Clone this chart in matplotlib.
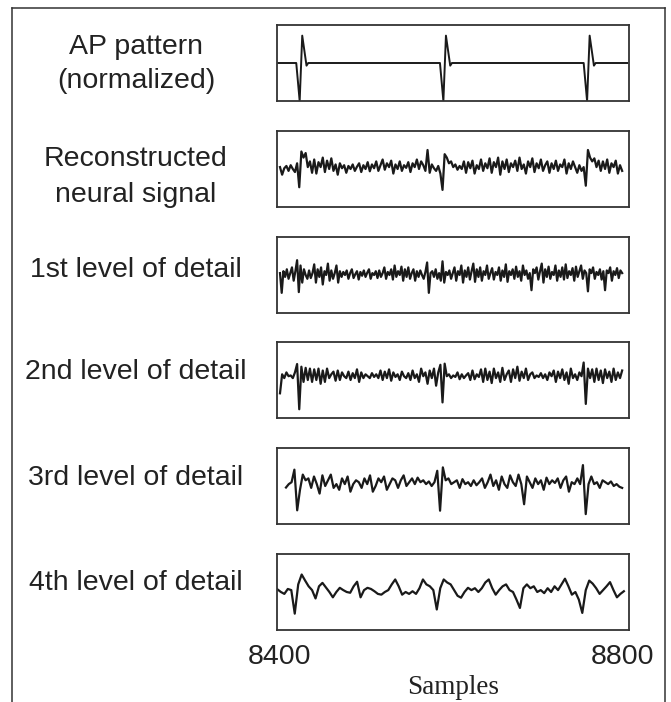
import numpy as np
import matplotlib
matplotlib.use("Agg")
import matplotlib.pyplot as plt
from matplotlib.lines import Line2D

# ---------------- data ----------------
panel_labels = ["AP pattern\n(normalized)", "Reconstructed\nneural signal",
                "1st level of detail", "2nd level of detail",
                "3rd level of detail", "4th level of detail"]
x_ticks = [8400, 8800]
x_ticklabels = ["8400", "8800"]
x_label = "Samples"

ap_x = [8398, 8419, 8423, 8426, 8431, 8433, 8587, 8591, 8594, 8599, 8601,
        8755, 8759, 8762, 8767, 8769, 8806]
ap_y = [0, 0, -1, 0.72, -0.07, 0, 0, -1, 0.72, -0.07, 0, 0, -1, 0.72, -0.07, 0, 0]

recon = [0.05, -0.15, 0.02, 0.08, -0.05, 0.1, 0.0, -0.08, 0.15, -0.48,
         0.46, 0.3, 0.42, 0.05, 0.2, -0.1, 0.25, -0.12, 0.18, 0.05,
         0.3, -0.08, 0.22, 0.0, 0.28, -0.05, 0.12, -0.15, 0.15, 0.02,
         0.1, -0.1, 0.08, 0.0, 0.12, -0.05, 0.06, 0.15, -0.08, 0.1,
         0.0, 0.18, -0.06, 0.12, 0.02, 0.2, -0.05, 0.1, 0.25, -0.02,
         0.15, 0.05, 0.22, -0.12, 0.12, 0.0, 0.2, -0.05, 0.1, 0.03,
         0.18, -0.08, 0.15, 0.05, 0.25, 0.0, 0.2, 0.1, -0.05, 0.5,
         -0.1, 0.12, 0.02, -0.05, 0.08, -0.12, -0.55, 0.39, 0.3, 0.15,
         0.2, 0.05, 0.12, -0.02, 0.08, 0.0, 0.2, -0.1, 0.18, 0.02,
         0.22, -0.12, 0.1, 0.0, 0.25, -0.05, 0.15, 0.02, 0.28, -0.1,
         0.18, 0.05, 0.3, -0.15, 0.2, 0.0, 0.25, -0.08, 0.15, 0.05,
         0.22, -0.05, 0.3, 0.0, 0.12, -0.12, 0.2, 0.05, 0.28, -0.08,
         0.15, 0.02, 0.25, -0.05, 0.1, 0.2, -0.1, 0.15, 0.0, 0.22,
         -0.05, 0.12, 0.05, 0.25, -0.12, 0.15, 0.0, 0.2, 0.05, -0.1,
         0.1, -0.05, 0.05, -0.44, 0.5, 0.3, 0.2, 0.28, 0.05, 0.22,
         -0.05, 0.2, 0.0, 0.25, -0.1, 0.15, 0.05, 0.22, -0.12, 0.1,
         -0.05]

detail1 = [0.05, -0.47, 0.1, -0.05, 0.15, -0.1, 0.05, 0.2, -0.15, 0.1,
           0.39, -0.45, 0.25, -0.2, 0.15, 0.0, -0.1, 0.12, -0.08, 0.05,
           0.28, -0.2, 0.15, -0.05, 0.2, -0.25, 0.1, 0.0, 0.3, -0.15,
           0.12, -0.1, 0.05, 0.25, -0.2, 0.1, -0.05, 0.08, 0.0, 0.12,
           -0.1, 0.05, 0.15, -0.08, 0.02, 0.1, -0.12, 0.08, -0.02, 0.12,
           -0.05, 0.06, 0.15, -0.1, 0.05, 0.0, 0.1, -0.08, 0.12, -0.05,
           0.05, 0.2, -0.1, 0.08, 0.0, 0.15, -0.12, 0.25, -0.05, 0.1,
           0.0, 0.22, -0.15, 0.15, -0.05, 0.2, -0.1, 0.05, 0.15, -0.15,
           0.1, -0.05, 0.12, 0.0, -0.1, 0.08, 0.33, -0.47, 0.05, 0.1,
           -0.05, 0.15, -0.1, 0.05, -0.15, 0.36, -0.2, 0.08, 0.0, 0.12,
           -0.1, 0.05, 0.2, -0.15, 0.1, 0.0, 0.25, -0.2, 0.12, -0.05,
           0.2, -0.12, 0.1, 0.3, -0.18, 0.15, -0.05, 0.2, -0.15, 0.1,
           0.0, 0.25, -0.1, 0.05, 0.18, -0.12, 0.08, 0.0, 0.2, -0.15,
           0.12, -0.05, 0.28, -0.18, 0.1, 0.0, 0.15, -0.1, 0.22, -0.05,
           0.1, -0.15, 0.25, 0.0, 0.12, -0.1, 0.05, -0.4, 0.15, 0.05,
           0.2, -0.12, 0.1, 0.3, -0.2, 0.15, -0.05, 0.22, -0.1, 0.08,
           0.0, 0.25, -0.15, 0.12, -0.05, 0.2, -0.12, 0.28, -0.08, 0.1,
           0.0, 0.18, -0.15, 0.22, -0.05, 0.1, 0.25, -0.1, 0.12, 0.05,
           -0.43, 0.15, 0.05, 0.2, -0.1, 0.08, 0.0, 0.15, -0.12, 0.1,
           -0.4, 0.12, 0.05, 0.2, -0.15, 0.1, 0.0, 0.18, -0.08, 0.12,
           0.05]

detail2 = [-0.35, 0.15, 0.05, 0.2, 0.1, 0.12, 0.05, 0.2, 0.42, -0.77,
           0.35, -0.05, 0.32, 0.0, 0.3, -0.05, 0.28, 0.0, 0.3, -0.1,
           0.25, -0.05, 0.3, 0.05, 0.15, 0.22, -0.02, 0.25, 0.0, 0.2,
           0.1, 0.05, 0.22, 0.0, 0.18, 0.05, 0.28, -0.05, 0.2, 0.05,
           0.15, 0.1, 0.05, 0.18, 0.08, 0.15, 0.05, 0.25, 0.0, 0.22,
           0.05, 0.28, -0.02, 0.2, 0.08, 0.15, 0.0, 0.22, 0.1, 0.05,
           0.18, 0.0, 0.25, 0.05, 0.15, -0.05, 0.3, 0.1, 0.2, -0.1,
           0.25, 0.05, 0.3, -0.15, 0.2, 0.4, -0.59, 0.43, 0.1, 0.15,
           0.05, 0.12, 0.08, 0.2, 0.02, 0.15, 0.05, 0.12, 0.18, 0.0,
           0.25, 0.02, 0.15, 0.08, 0.28, -0.05, 0.3, 0.0, 0.22, -0.08,
           0.3, 0.05, 0.2, -0.05, 0.32, 0.0, 0.15, 0.25, -0.05, 0.28,
           0.05, 0.35, -0.02, 0.22, 0.05, 0.3, 0.0, 0.15, 0.2, 0.05,
           0.12, 0.08, 0.18, 0.05, 0.15, 0.0, 0.2, 0.1, 0.25, -0.05,
           0.22, 0.05, 0.28, 0.0, 0.2, -0.1, 0.3, 0.05, 0.15, 0.0,
           0.2, 0.1, 0.46, -0.63, 0.3, 0.05, 0.28, -0.05, 0.3, 0.0,
           0.25, -0.08, 0.28, 0.05, 0.22, -0.05, 0.3, 0.0, 0.2, 0.05,
           0.25]

detail3 = [-0.04, 0.05, 0.1, 0.43, -0.64, -0.1, 0.3, 0.15, 0.2, -0.05,
           0.25, 0.05, -0.2, 0.28, 0.0, 0.15, 0.3, -0.05, 0.05, -0.1,
           0.2, 0.05, 0.25, -0.15, 0.05, 0.15, 0.1, -0.05, 0.2, 0.05,
           0.28, -0.15, 0.0, 0.2, 0.1, 0.25, -0.1, 0.05, 0.2, 0.15,
           -0.05, 0.15, 0.28, 0.0, 0.1, 0.2, 0.05, 0.22, 0.1, 0.15,
           0.05, 0.12, 0.0, 0.1, 0.4, -0.65, 0.49, 0.15, 0.2, 0.05,
           0.1, 0.15, -0.05, 0.18, 0.05, 0.1, 0.0, 0.15, 0.02, 0.1,
           0.2, -0.05, 0.1, 0.3, 0.0, 0.15, -0.1, 0.25, 0.05, -0.05,
           0.28, 0.1, 0.0, 0.3, 0.05, -0.48, 0.25, 0.1, -0.05, 0.2,
           0.05, 0.15, -0.1, 0.22, 0.05, 0.15, 0.08, 0.2, -0.05, 0.15,
           0.25, -0.15, 0.1, 0.05, 0.2, 0.05, 0.55, -0.74, 0.05, 0.25,
           0.05, 0.1, -0.05, 0.15, 0.1, 0.05, 0.12, 0.0, 0.05, -0.02,
           -0.05]

detail4 = [0.07, 0.0, -0.05, 0.08, 0.05, -0.57, 0.2, 0.46, 0.3, 0.15,
           0.05, -0.17, 0.15, 0.24, 0.12, 0.0, -0.14, 0.0, 0.11, 0.05,
           0.0, -0.02, 0.15, 0.27, -0.14, 0.05, 0.11, 0.08, 0.02, -0.05,
           -0.07, 0.0, 0.05, 0.2, 0.33, 0.15, -0.07, 0.0, -0.05, 0.02,
           -0.05, 0.1, 0.33, 0.2, 0.15, 0.05, -0.46, 0.1, 0.33, 0.25,
           0.2, 0.05, -0.1, -0.15, 0.0, 0.11, 0.05, 0.1, 0.0, 0.1,
           0.25, 0.33, 0.1, -0.07, 0.05, 0.15, 0.2, 0.05, 0.0, -0.2,
           -0.42, 0.1, 0.2, 0.1, 0.15, 0.0, 0.05, -0.03, 0.1, 0.0,
           0.15, 0.05, 0.2, 0.35, 0.15, -0.07, 0.0, -0.2, -0.55, 0.05,
           0.3, 0.22, 0.1, -0.05, 0.05, 0.15, 0.26, 0.05, -0.14, -0.05,
           0.02]

# sample ranges covered by each trace
recon_range = (8400, 8800)
detail1_range = (8400, 8800)
detail2_range = (8400, 8800)
detail3_range = (8407, 8800)
detail4_range = (8397, 8802)

# ---------------- figure ----------------
W, H = 671, 702
fig = plt.figure(figsize=(W / 100, H / 100), dpi=100)
fig.patch.set_facecolor("white")

line_color = "#1a1a1a"
frame_color = "#333333"
sans = ["Liberation Sans", "DejaVu Sans"]
serif = ["Liberation Serif", "DejaVu Serif"]

left_px, right_px = 277, 629
bottoms_px = [101, 207, 313, 418, 524, 630]
height_px = 76
label_y_px = [64, 177, 270, 372, 478, 583]
label_x_px = 136

series = [
    (ap_x, ap_y),
    (np.linspace(*recon_range, len(recon)), recon),
    (np.linspace(*detail1_range, len(detail1)), detail1),
    (np.linspace(*detail2_range, len(detail2)), detail2),
    (np.linspace(*detail3_range, len(detail3)), detail3),
    (np.linspace(*detail4_range, len(detail4)), detail4),
]

axes = []
for k, (xs, ys) in enumerate(series):
    ax = fig.add_axes([left_px / W, (H - bottoms_px[k]) / H,
                       (right_px - left_px) / W, height_px / H])
    ax.plot(xs, ys, color=line_color, lw=1.6 if k else 1.4)
    ax.set_xlim(8396.5, 8808)
    ax.set_ylim(-1.0, 1.0)
    ax.set_yticks([])
    ax.set_xticks([])
    for sp in ax.spines.values():
        sp.set_color(frame_color)
        sp.set_linewidth(1.3)
    fig.text(label_x_px / W, 1 - label_y_px[k] / H, panel_labels[k],
             ha="center", va="center", fontsize=20.5, family=sans,
             color="#222222", linespacing=1.45)
    axes.append(ax)

ax = axes[-1]
ax.set_xticks(x_ticks)
ax.set_xticklabels(x_ticklabels, family=sans, fontsize=20.5, color="#222222")
ax.tick_params(axis="x", length=0, pad=10)
ax.set_xlabel(x_label, family=serif, fontsize=19.5, color="#222222", labelpad=4)

# outer frame (left, top, right)
fx0, fx1, fy = 12 / W, 665 / W, 1 - 8 / H
for xd, yd in [([fx0, fx0], [0, fy]), ([fx0, fx1], [fy, fy]), ([fx1, fx1], [fy, 0])]:
    fig.add_artist(Line2D(xd, yd, transform=fig.transFigure,
                          color=frame_color, lw=1.1))

fig.savefig("out.png", dpi=100, facecolor="white")
